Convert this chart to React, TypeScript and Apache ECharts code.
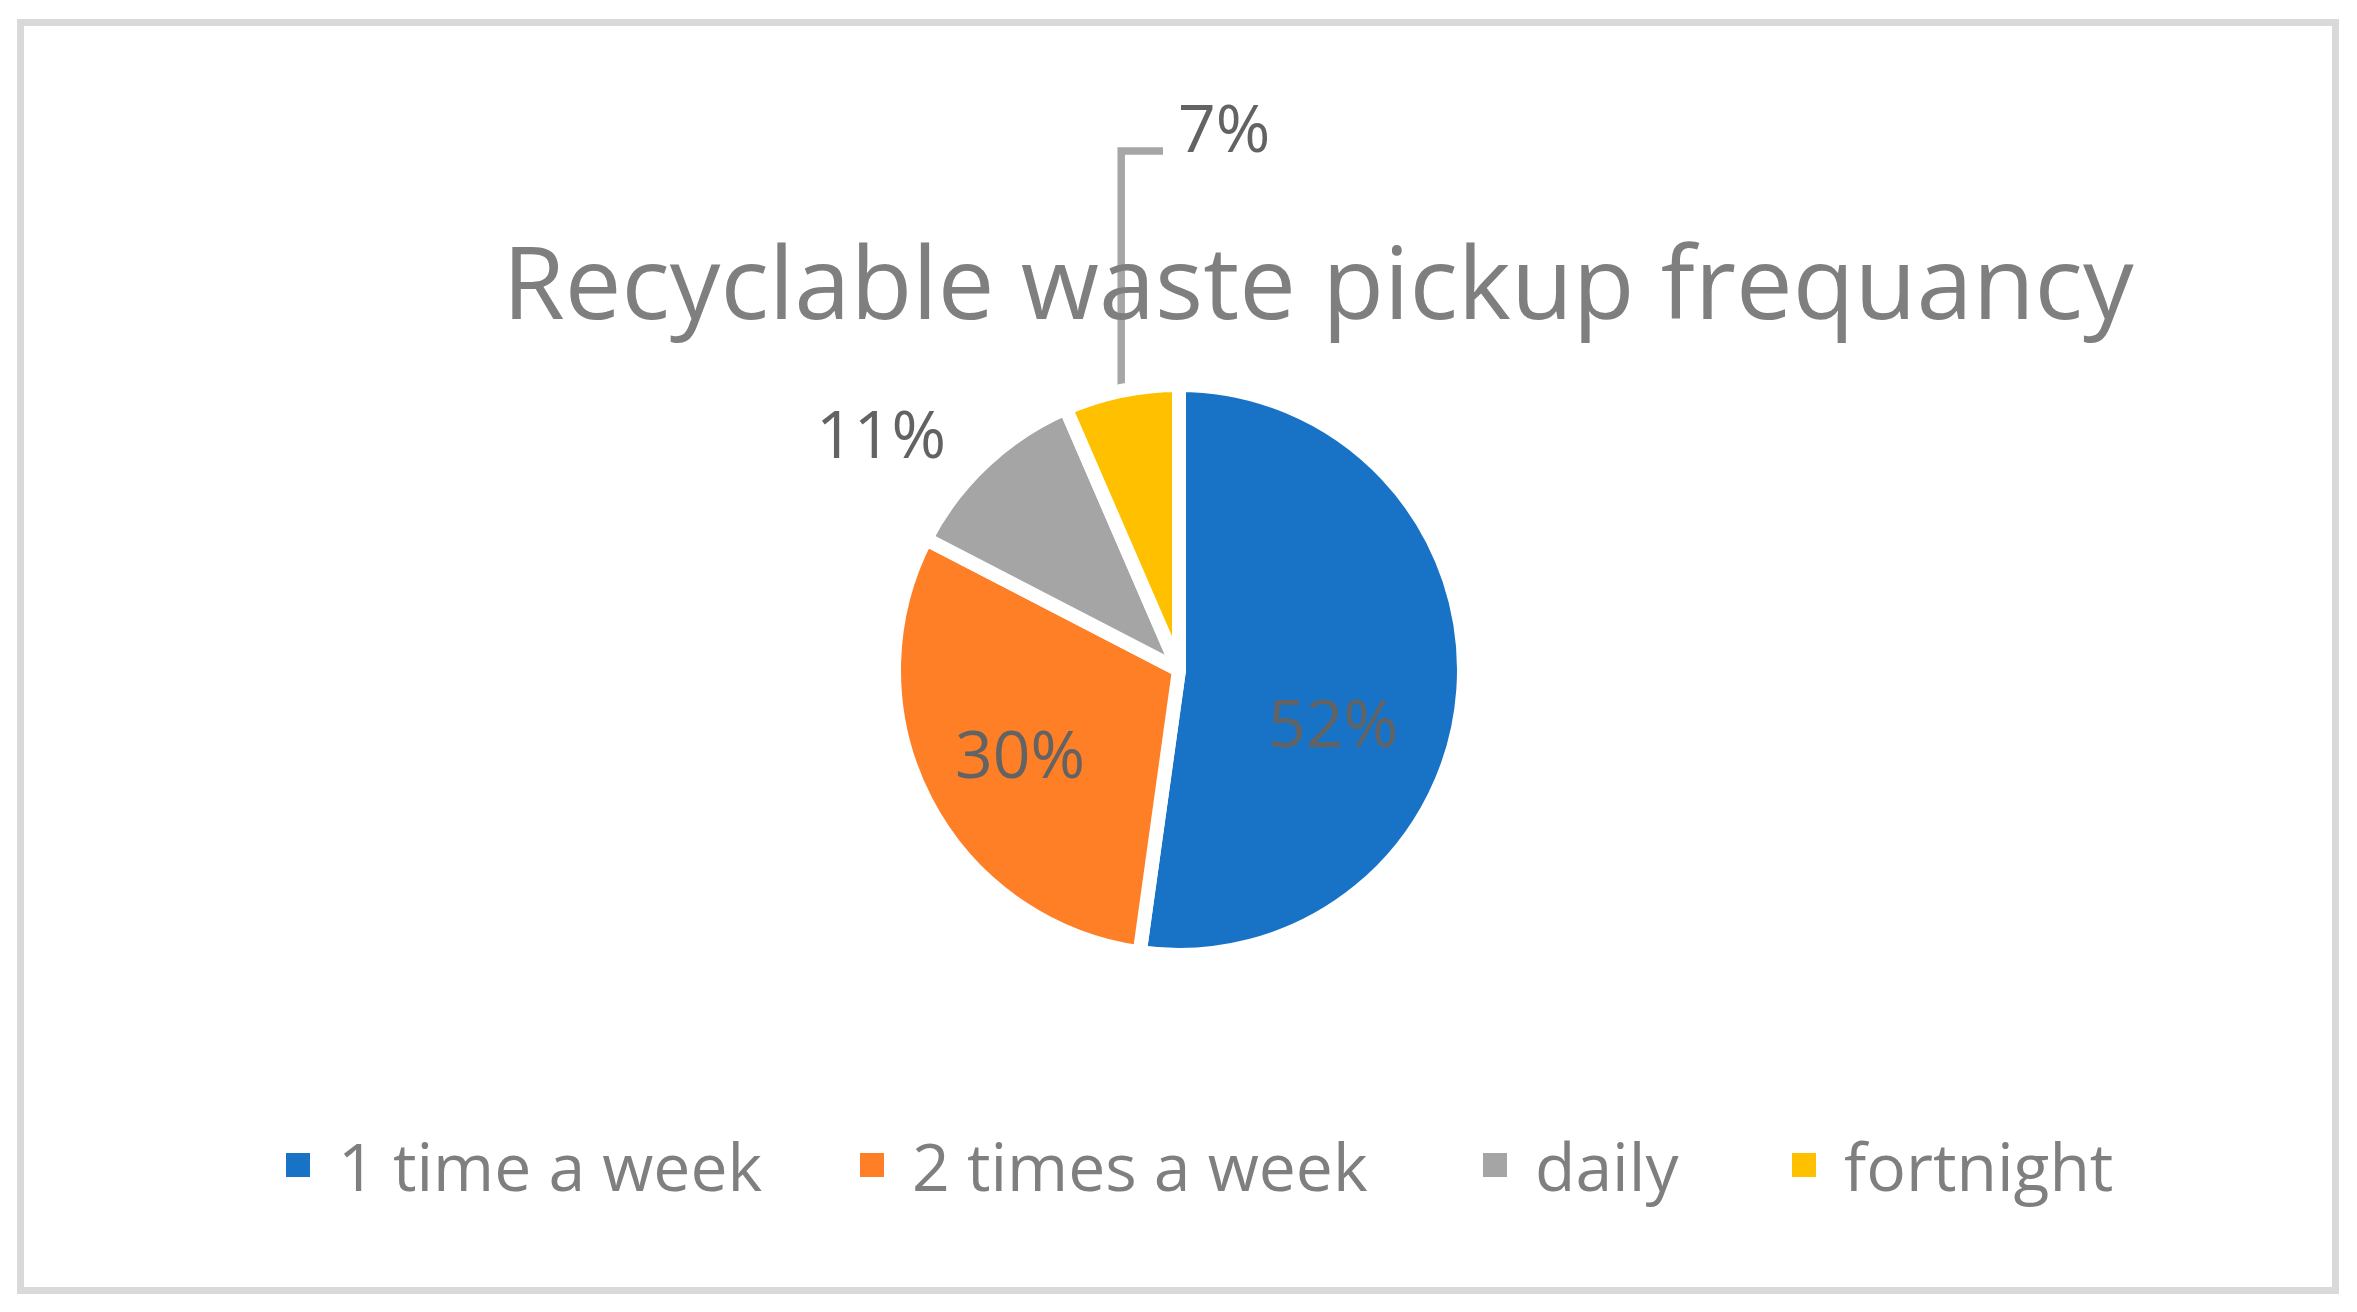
import React, { useEffect, useRef } from "react";
import * as echarts from "echarts";

const categories = ["1 time a week", "2 times a week", "daily", "fortnight"];
// shares (labels show rounded percentages)
const shares = [52.2, 30.4, 10.9, 6.5];
const colors = ["#1873C6", "#FE7F26", "#A5A5A5", "#FFC000"];
const titleText = "Recyclable waste pickup frequancy";

const W = 2357;
const H = 1312;
const FONT = "'Open Sans', 'Noto Sans', sans-serif";
const CX = 1179;
const CY = 670;
const R = 285;
// label anchor offsets relative to pie centre (styling only)
const labelOffsets = [
  [154, 51],
  [-159, 82],
  [-298, -238],
  [-1, -544],
];
const legendLefts = [284, 858, 1481, 1790];

export default function App() {
  const ref = useRef<HTMLDivElement>(null);
  useEffect(() => {
    document.body.style.margin = "0";
    const chart = echarts.init(ref.current!, null, { renderer: "svg", width: W, height: H });
    chart.setOption({
      animation: false,
      backgroundColor: "#ffffff",
      color: colors,
      title: {
        text: titleText,
        left: 1318,
        top: 229,
        textAlign: "center",
        padding: 0,
        textStyle: { fontFamily: FONT, fontSize: 101, fontWeight: "normal", color: "#7f7f7f" },
      },
      legend: categories.map((c, i) => ({
        data: [c],
        left: legendLefts[i],
        top: 1132,
        padding: 0,
        icon: "rect",
        itemWidth: 26,
        itemHeight: 26,
        selectedMode: false,
        textStyle: { fontFamily: FONT, fontSize: 66, color: "#7f7f7f", padding: [0, 0, 0, 22] },
      })),
      graphic: [
        {
          type: "rect",
          silent: true,
          z: 100,
          shape: { x: 20.5, y: 22.5, width: 2315, height: 1268 },
          style: { fill: "none", stroke: "#d9d9d9", lineWidth: 7 },
        },
      ],
      series: [
        {
          type: "pie",
          center: [CX, CY],
          radius: R,
          startAngle: 90,
          clockwise: true,
          percentPrecision: 0,
          itemStyle: { borderColor: "#ffffff", borderWidth: 14 },
          label: { fontFamily: FONT, fontSize: 66, color: "#636363", formatter: "{d}%" },
          labelLine: { show: false },
          emphasis: { disabled: true },
          labelLayout: (p: any) => {
            const i = p.dataIndex;
            const off = labelOffsets[i];
            if (i === 3) {
              const x = CX + off[0];
              const y = CY + off[1];
              const s = p.labelLinePoints ? p.labelLinePoints[0] : [CX - 58, CY - 280];
              return {
                x,
                y,
                align: "left",
                verticalAlign: "middle",
                labelLinePoints: [
                  [s[0], s[1]],
                  [s[0], y + 25],
                  [x - 15, y + 25],
                ],
              };
            }
            return { x: CX + off[0], y: CY + off[1], align: "center", verticalAlign: "middle" };
          },
          data: categories.map((name, i) => ({
            name,
            value: shares[i],
            label: { position: i < 2 ? "inside" : "outside" },
            labelLine:
              i === 3
                ? { show: true, length: 20, length2: 20, lineStyle: { color: "#a6a6a6", width: 7.5 } }
                : { show: false },
          })),
        },
      ],
    });
    return () => chart.dispose();
  }, []);
  return <div ref={ref} style={{ width: W, height: H }} />;
}
